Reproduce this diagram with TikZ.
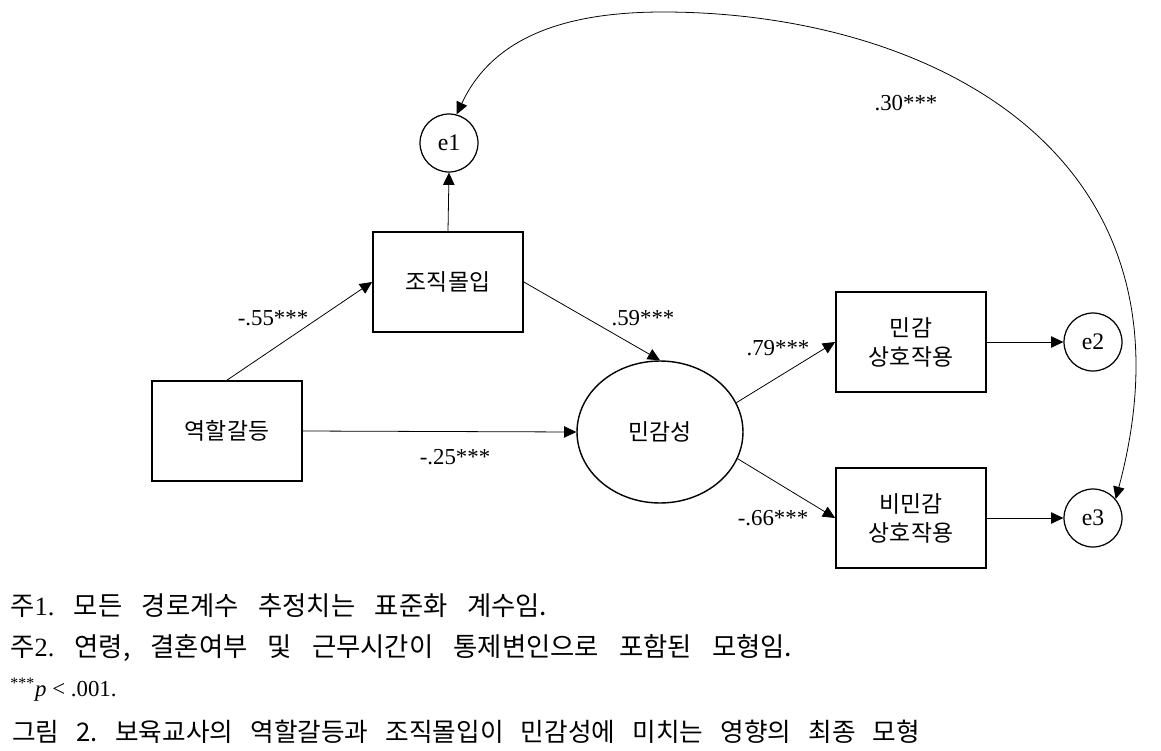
\documentclass[tikz,border=0pt]{standalone}
\usepackage{fontspec}
\setmainfont{Liberation Serif}
\newfontfamily\kr{Noto Sans CJK KR}
\usetikzlibrary{arrows.meta,shapes.geometric}

\begin{document}
\frenchspacing
\begin{tikzpicture}[x=0.02cm, y=-0.02cm,
    box/.style={draw, line width=1pt, minimum width=3cm, minimum height=2cm, align=center, font=\kr\fontsize{13}{16.5}\selectfont},
    err/.style={circle, draw, line width=0.7pt, minimum size=1.16cm, inner sep=0pt, font=\fontsize{13.5}{15}\selectfont},
    lat/.style={ellipse, draw, line width=0.8pt, minimum width=3.32cm, minimum height=2.84cm, inner sep=0pt, font=\kr\fontsize{13}{15}\selectfont},
    arr/.style={-{Triangle[length=7pt, width=6.5pt]}, line width=0.45pt},
    cov/.style={{Triangle[length=7pt, width=6.5pt]}-{Triangle[length=7pt, width=6.5pt]}, line width=0.45pt},
    coef/.style={font=\fontsize{13}{15}\selectfont},
    note/.style={anchor=west, inner sep=0pt, font=\fontsize{15}{17}\selectfont}
  ]
  \useasboundingbox (0,0) rectangle (1161,751);

  % variables
  \node[err] (e1) at (449,143) {e1};
  \node[box] (org) at (448,282) {조직몰입};
  \node[box] (role) at (227,431) {역할갈등};
  \node[lat] (sens) at (660,432) {민감성};
  \node[box] (sen) at (911,342) {민감\\상호작용};
  \node[box] (insen) at (911,518) {비민감\\상호작용};
  \node[err] (e2) at (1093,342) {e2};
  \node[err] (e3) at (1093,518) {e3};
  \coordinate (peak) at (663,12);

  % paths
  \draw[arr] (role.north) -- (org.west);
  \draw[arr] (role.east) -- (sens.west);
  \draw[arr] (org.east) -- (sens.north);
  \draw[arr] (org.north) -- (e1.south);
  \draw[arr] (sens.21) -- (sen.west);
  \draw[arr] (sens.-19) -- (insen.west);
  \draw[arr] (sen.east) -- (e2.west);
  \draw[arr] (insen.east) -- (e3.west);
  \draw[cov] (e3.40) to[out=75, in=0, out looseness=1.4, in looseness=1] (peak)
    to[out=180, in=65] (e1.75);

  % coefficients
  \node[coef] (c1) at (273,318) {-.55***};
  \node[coef] (c2) at (455,457) {-.25***};
  \node[coef] (c3) at (643,318) {.59***};
  \node[coef] (c4) at (778,348) {.79***};
  \node[coef] (c5) at (773,518) {-.66***};
  \node[coef] (c6) at (906,103) {.30***};

  % notes
  \node[note] (n1) at (10,606) {\makebox[10.74cm][s]{{\kr 주}1.{\kr\ 모든 경로계수 추정치는 표준화 계수임.}}};
  \node[note] (n2) at (10,648) {\makebox[15.64cm][s]{{\kr 주}2.{\kr\ 연령, 결혼여부 및 근무시간이 통제변인으로 포함된 모형임.}}};
  \node[note, font=\fontsize{13}{15}\selectfont] (n3) at (10,690) {\textsuperscript{***}\textit{p} < .001.};
  \node[note, font=\kr\fontsize{14.6}{17}\selectfont] (cap) at (12,732) {\makebox[18.16cm][s]{그림 2. 보육교사의 역할갈등과 조직몰입이 민감성에 미치는 영향의 최종 모형}};
\end{tikzpicture}
\end{document}
